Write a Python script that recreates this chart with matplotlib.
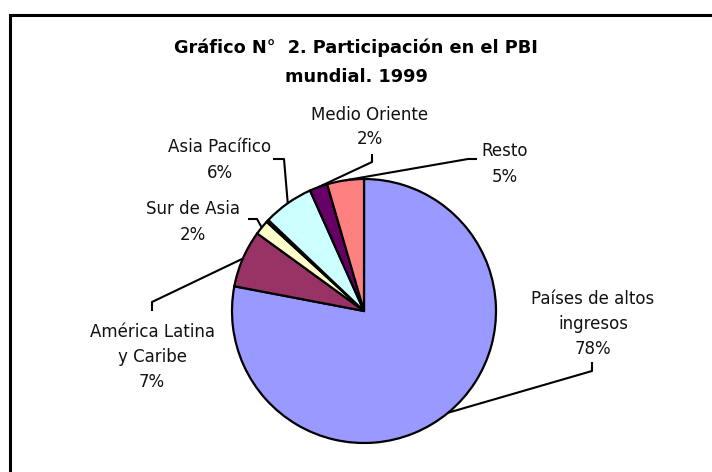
import numpy as np
import matplotlib
matplotlib.use("Agg")
import matplotlib.pyplot as plt
from matplotlib.patches import Rectangle

# ---- data ----
categories = ["Países de altos\ningresos", "América Latina\ny Caribe", "Sur de Asia", "",
              "Asia Pacífico", "Medio Oriente", "Resto"]
values = [78.0, 7.0, 1.8, 0.3, 6.2, 2.2, 4.5]
pct_labels = ["78%", "7%", "2%", "", "6%", "2%", "5%"]
colors = ["#9999FF", "#993366", "#FFFFCC", "#C0C0C0", "#CCFFFF", "#660066", "#FF8080"]
title = "Gráfico N°  2. Participación en el PBI\nmundial. 1999"

W, H = 712, 472
fig = plt.figure(figsize=(W / 100, H / 100), dpi=100)
ax = fig.add_axes([0, 0, 1, 1])

# frame (chart area border)
fig.patches.append(Rectangle((10 / W, -0.1), 1.2, (H - 15) / H + 0.1, transform=fig.transFigure,
                             fill=False, edgecolor="black", linewidth=2.2))

cx, cy, R = 364, H - 311, 132
wedges, _ = ax.pie(values, colors=colors, startangle=90, counterclock=False,
                   center=(cx, cy), radius=R, frame=True,
                   wedgeprops=dict(edgecolor="black", linewidth=1.6))
ax.set_xlim(0, W)
ax.set_ylim(0, H)
ax.set_aspect("equal")
ax.axis("off")

ax.text(356, H - 62, title, ha="center", va="center", fontsize=12.8, fontweight="bold",
        family="DejaVu Sans", linespacing=1.75)

# label layout: (text center x, text center y in px from top, leader path in px from top)
layout = {
    0: ((593, 324), [(592, 362), (592, 371)]),
    1: ((152, 357), [(152, 311), (152, 302)]),
    2: ((193, 222), [(248, 219), (257, 219)]),
    4: ((220, 160), [(273, 159), (284, 159)]),
    5: ((370, 127), [(372, 154), (372, 162)]),
    6: ((505, 164), [(477, 159), (468, 159)]),
}
for i, ((tx, ty), path) in layout.items():
    w = wedges[i]
    mid = np.deg2rad((w.theta1 + w.theta2) / 2)
    ex, ey = cx + R * np.cos(mid), cy + R * np.sin(mid)
    xs = [p[0] for p in path] + [ex]
    ys = [H - p[1] for p in path] + [ey]
    ax.plot(xs, ys, color="black", linewidth=1.5, solid_capstyle="butt")
    ax.text(tx, H - ty, categories[i] + "\n" + pct_labels[i], ha="center", va="center",
            fontsize=12, family="DejaVu Sans", linespacing=1.5, color="#111111")

fig.savefig("out.png", dpi=100)
